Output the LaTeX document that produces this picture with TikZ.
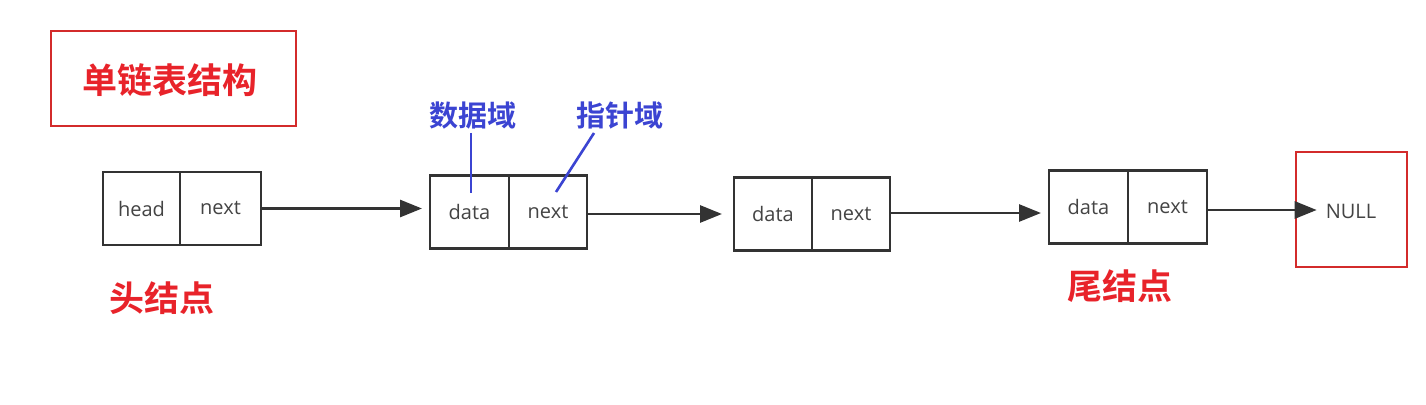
\documentclass[tikz,border=0pt]{standalone}
\usepackage{fontspec}
\setmainfont{Open Sans}
\newfontfamily\cjkb{Noto Sans CJK SC Bold}
\usetikzlibrary{arrows.meta}
\definecolor{boxline}{HTML}{333333}
\definecolor{txtgray}{HTML}{444444}
\definecolor{redbox}{HTML}{D32B2B}
\definecolor{redtxt}{HTML}{E8232A}
\definecolor{bluetxt}{HTML}{3B44D2}
\tikzset{
  cell/.style={draw=boxline, line width=2.6pt, minimum width=78pt, minimum height=73pt, inner sep=0pt, outer sep=0pt, text=txtgray, font=\fontsize{20}{23}\selectfont, anchor=west},
  link/.style={draw=boxline, line width=2.8pt, -{Triangle[length=22pt,width=17pt]}},
  redframe/.style={draw=redbox, line width=2.6pt, inner sep=0pt},
  redlabel/.style={text=redtxt, font=\cjkb\fontsize{35}{38}\selectfont, inner sep=0pt},
  bluelabel/.style={text=bluetxt, font=\cjkb\fontsize{29}{32}\selectfont, inner sep=0pt},
  pointer/.style={draw=bluetxt, line width=2.6pt}
}
\begin{document}
\begin{tikzpicture}[x=1pt,y=-1pt]
\path[use as bounding box, fill=white] (0,0) rectangle (1426,404);
% title
\node[redframe, minimum width=245pt, minimum height=95pt] (title) at (173.5,78.5) {};
\node[redlabel] (titletxt) at (170,80) {单链表结构};
% node 1
\node[cell, minimum width=77pt] (h1) at (103,208.5) {head};
\node[cell, minimum width=81pt] (n1) at (h1.east) {next};
% node 2
\node[cell, minimum width=79pt] (d2) at (430,212) {data};
\node[cell] (n2) at (d2.east) {next};
% node 3
\node[cell] (d3) at (734,214) {data};
\node[cell] (n3) at (d3.east) {next};
% node 4
\node[cell, minimum width=79pt] (d4) at (1049,207) {data};
\node[cell, minimum width=79pt] (n4) at (d4.east) {next};
% NULL
\node[redframe, minimum width=111pt, minimum height=115pt] (nullbox) at (1351.5,209.5) {};
\node[text=txtgray, font=\fontsize{20}{23}\selectfont, inner sep=0pt] (nulltxt) at (1351,211) {NULL};
% links
\draw[link, shorten >=8pt] (n1.east) -- (n1.east -| d2.west);
\draw[link, shorten >=12pt] ([yshift=-2pt]n2.east) -- ([yshift=-2pt]n2.east -| d3.west);
\draw[link, shorten >=8pt] ([yshift=1pt]n3.east) -- ([yshift=1pt]n3.east -| d4.west);
\draw[link, shorten >=-22pt] ([yshift=-3pt]n4.east) -- ([yshift=-3pt]n4.east -| nullbox.west);
% labels
\node[bluelabel] (lbdata) at (473,116) {数据域};
\node[bluelabel] (lbnext) at (620,116) {指针域};
\coordinate (pdata) at (471,193);
\coordinate (pnext) at (556,192);
\draw[pointer] (lbdata.south -| pdata) ++(0,3) -- (pdata);
\draw[pointer] (594,133) -- (pnext);
\node[redlabel] (headlbl) at (162,298) {头结点};
\node[redlabel] (taillbl) at (1120,286) {尾结点};
\end{tikzpicture}
\end{document}
